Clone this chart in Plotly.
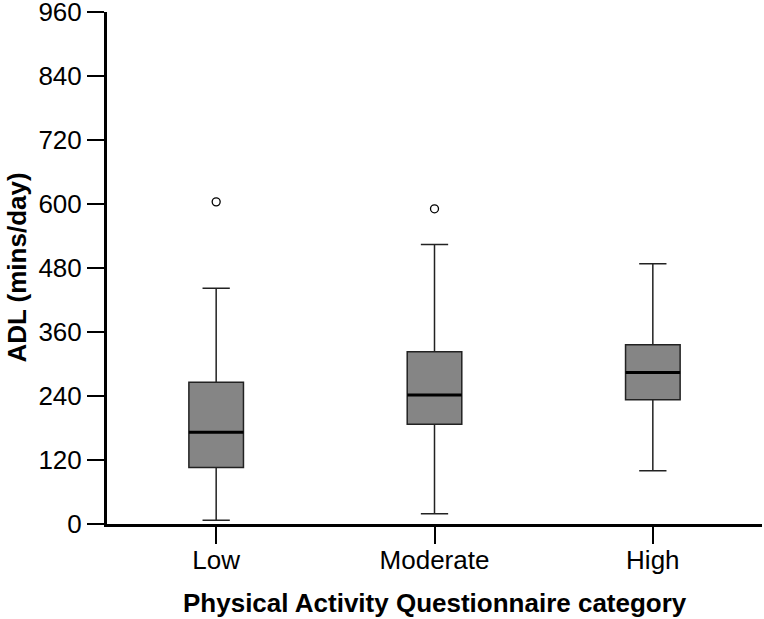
import plotly.graph_objects as go

# ADL (mins/day) by PAQ category
categories = ["Low", "Moderate", "High"]
lower_whisker = [7, 19, 100]
q1_vals = [106, 187, 233]
median_vals = [172, 242, 284]
q3_vals = [266, 323, 336]
upper_whisker = [442, 524, 488]
outlier_cat = [0, 1]
outlier_vals = [604, 591]

y_ticks = [0, 120, 240, 360, 480, 600, 720, 840, 960]

box_w = 0.25
xs = list(range(len(categories)))

fig = go.Figure()

fig.add_trace(go.Box(
    x=xs,
    q1=q1_vals,
    median=median_vals,
    q3=q3_vals,
    lowerfence=lower_whisker,
    upperfence=upper_whisker,
    width=box_w,
    whiskerwidth=0.5,
    fillcolor="#858585",
    line=dict(color="#222222", width=1.5),
    boxpoints=False,
    showlegend=False,
    hoverinfo="skip",
))

# thicker median line drawn over the boxes
med_x, med_y = [], []
for i, m in zip(xs, median_vals):
    med_x += [i - box_w / 2, i + box_w / 2, None]
    med_y += [m, m, None]
fig.add_trace(go.Scatter(
    x=med_x, y=med_y, mode="lines",
    line=dict(color="black", width=3),
    showlegend=False, hoverinfo="skip",
))

fig.add_trace(go.Scatter(
    x=outlier_cat, y=outlier_vals, mode="markers",
    marker=dict(symbol="circle-open", size=8, color="black", line=dict(width=1.3)),
    showlegend=False,
))

fig.update_layout(
    width=764, height=619,
    margin=dict(l=107, r=2, t=12, b=95),
    plot_bgcolor="white",
    paper_bgcolor="white",
    font=dict(family="Liberation Sans, Arial, sans-serif", size=26, color="black"),
    xaxis=dict(
        range=[-0.5, 2.5],
        tickvals=xs, ticktext=categories,
        showline=True, linecolor="black", linewidth=3,
        ticks="outside", ticklen=17, tickwidth=1.5, tickcolor="black",
        ticklabelstandoff=-6,
        showgrid=False, zeroline=False, automargin=False,
    ),
    yaxis=dict(
        range=[0, 960],
        tickvals=y_ticks,
        showline=True, linecolor="black", linewidth=3,
        ticks="outside", ticklen=17, tickwidth=1.5, tickcolor="black",
        ticklabeloverflow="allow",
        showgrid=False, zeroline=False, automargin=False,
    ),
    annotations=[
        dict(text="<b>Physical Activity Questionnaire category</b>",
             xref="paper", yref="paper", x=0.5, y=-0.154,
             xanchor="center", yanchor="middle", showarrow=False,
             font=dict(size=26)),
        dict(text="<b>ADL (mins/day)</b>", textangle=-90,
             xref="paper", yref="paper", x=-0.138, y=0.5,
             xanchor="center", yanchor="middle", showarrow=False,
             font=dict(size=26)),
    ],
)

# drop the default body margin so the figure sits at the window's corner
fig.write_html("out.html", config={"displayModeBar": False},
               post_script="document.body.style.margin='0';")
